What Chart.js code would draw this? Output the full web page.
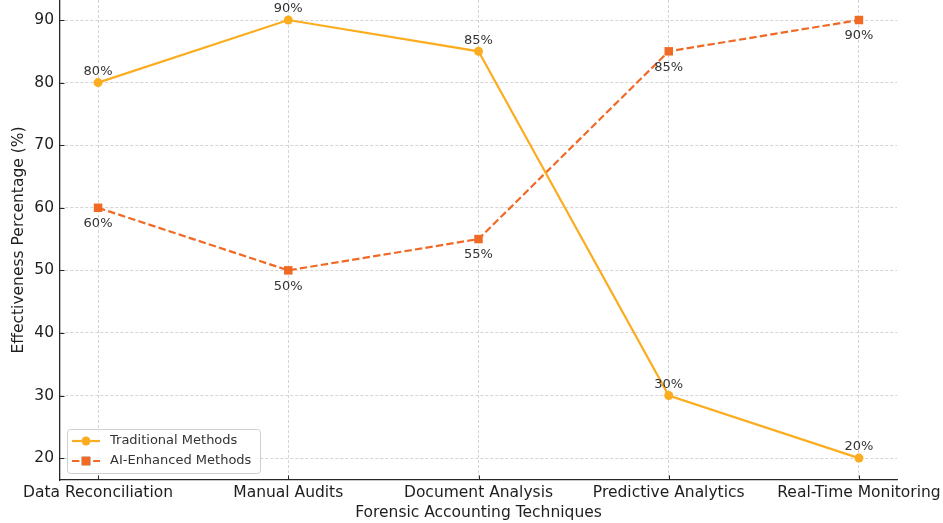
<!DOCTYPE html>
<html>
<head>
<meta charset="utf-8">
<script src="https://cdn.jsdelivr.net/npm/chart.js@4.4.1/dist/chart.umd.min.js"></script>
<style>
  html, body { margin: 0; padding: 0; background: #fff; overflow: hidden; }
  #wrap { position: relative; width: 943px; height: 523px; }
</style>
</head>
<body>
<div id="wrap"><canvas id="c" width="943" height="523"></canvas></div>
<script>
// Forensic accounting techniques compared by effectiveness
const categories = ['Data Reconciliation', 'Manual Audits', 'Document Analysis', 'Predictive Analytics', 'Real-Time Monitoring'];
const traditionalValues = [80, 90, 85, 30, 20];
const aiEnhancedValues = [60, 50, 55, 85, 90];
const yTickValues = [20, 30, 40, 50, 60, 70, 80, 90];
const seriesNames = ['Traditional Methods', 'AI-Enhanced Methods'];

const FONT = 'DejaVu Sans';
const TRAD_COLOR = '#fbad1f';
const AI_COLOR = '#f06a26';
const TEXT = '#1e1e1e';
const AXIS = '#262626';
const GRID = '#c9c9c9';

const toPoints = vals => vals.map((v, i) => ({ x: i, y: v }));

// Value labels: traditional above its points, AI-enhanced below
const valueLabels = {
  id: 'valueLabels',
  afterDatasetsDraw(chart) {
    const ctx = chart.ctx;
    ctx.save();
    ctx.font = '13px "' + FONT + '"';
    ctx.fillStyle = '#333333';
    ctx.textAlign = 'center';
    ctx.textBaseline = 'middle';
    chart.data.datasets.forEach((ds, di) => {
      const meta = chart.getDatasetMeta(di);
      const dy = di === 0 ? -11 : 16;
      meta.data.forEach((pt, i) => {
        ctx.fillText(ds.data[i].y + '%', pt.x, pt.y + dy);
      });
    });
    ctx.restore();
  }
};

// Short inward tick marks on the left and bottom axes
const innerTicks = {
  id: 'innerTicks',
  afterDraw(chart) {
    const { ctx, chartArea, scales } = chart;
    ctx.save();
    ctx.strokeStyle = AXIS;
    ctx.lineWidth = 1;
    ctx.beginPath();
    scales.y.ticks.forEach(t => {
      const y = Math.round(scales.y.getPixelForValue(t.value)) + 0.5;
      ctx.moveTo(chartArea.left, y);
      ctx.lineTo(chartArea.left + 4.5, y);
    });
    scales.x.ticks.forEach(t => {
      const x = Math.round(scales.x.getPixelForValue(t.value)) + 0.5;
      ctx.moveTo(x, chartArea.bottom);
      ctx.lineTo(x, chartArea.bottom - 4.5);
    });
    ctx.stroke();
    ctx.restore();
  }
};

// Legend box in the lower-left corner of the plot
const cornerLegend = {
  id: 'cornerLegend',
  afterDraw(chart) {
    const { ctx, chartArea } = chart;
    const x0 = chartArea.left + 7, w = 193, h = 44;
    const y0 = chartArea.bottom - 7 - h;
    ctx.save();
    ctx.beginPath();
    ctx.roundRect(x0 + 0.5, y0 + 0.5, w, h, 3);
    ctx.fillStyle = 'rgba(255,255,255,0.8)';
    ctx.fill();
    ctx.strokeStyle = '#d0d0d0';
    ctx.lineWidth = 1;
    ctx.stroke();
    chart.data.datasets.forEach((ds, i) => {
      const cy = y0 + 12 + i * 20;
      ctx.strokeStyle = ds.borderColor;
      ctx.lineWidth = ds.borderWidth;
      ctx.setLineDash(ds.borderDash || []);
      ctx.beginPath();
      ctx.moveTo(x0 + 5, cy);
      ctx.lineTo(x0 + 33, cy);
      ctx.stroke();
      ctx.setLineDash([]);
      Chart.helpers.drawPoint(ctx, {
        pointStyle: ds.pointStyle, radius: ds.pointRadius, rotation: 0,
        borderWidth: 0
      }, x0 + 19, cy);
      ctx.fillStyle = ds.pointBackgroundColor;
      ctx.fill();
      ctx.fillStyle = '#333';
      ctx.font = '13px "' + FONT + '"';
      ctx.textAlign = 'left';
      ctx.textBaseline = 'middle';
      ctx.fillText(ds.label, x0 + 43, cy);
    });
    ctx.restore();
  }
};

new Chart(document.getElementById('c'), {
  type: 'line',
  data: {
    datasets: [
      {
        label: seriesNames[0],
        data: toPoints(traditionalValues),
        borderColor: TRAD_COLOR,
        backgroundColor: TRAD_COLOR,
        pointBackgroundColor: TRAD_COLOR,
        pointBorderColor: TRAD_COLOR,
        pointStyle: 'circle',
        pointRadius: 4.5,
        pointBorderWidth: 0,
        borderWidth: 2.2,
        tension: 0
      },
      {
        label: seriesNames[1],
        data: toPoints(aiEnhancedValues),
        borderColor: AI_COLOR,
        backgroundColor: AI_COLOR,
        pointBackgroundColor: AI_COLOR,
        pointBorderColor: AI_COLOR,
        pointStyle: 'rect',
        pointRadius: 6,
        pointBorderWidth: 0,
        borderWidth: 2.2,
        borderDash: [7.4, 3.2],
        tension: 0
      }
    ]
  },
  options: {
    responsive: false,
    animation: false,
    events: [],
    layout: { autoPadding: false, padding: { left: 0, right: 46, top: 0, bottom: 0 } },
    plugins: {
      legend: { display: false },
      tooltip: { enabled: false }
    },
    scales: {
      x: {
        type: 'linear',
        position: 'bottom',
        min: -0.2,
        max: 4.2,
        afterBuildTicks: s => { s.ticks = categories.map((c, i) => ({ value: i })); },
        afterFit: s => { s.height = 43; s.paddingLeft = 0; s.paddingRight = 0; },
        ticks: {
          callback: v => categories[v],
          autoSkip: false,
          maxRotation: 0,
          padding: 4,
          color: TEXT,
          font: { family: FONT, size: 15.5 }
        },
        grid: { color: GRID, lineWidth: 0.8, drawTicks: false },
        border: { display: true, color: AXIS, width: 1.3, dash: [3, 2] },
        title: {
          display: true,
          text: 'Forensic Accounting Techniques',
          color: TEXT,
          font: { family: FONT, size: 15.5 },
          padding: { top: 0, bottom: 1.2 }
        }
      },
      y: {
        type: 'linear',
        position: 'left',
        min: 16.5,
        max: 93.2,
        afterBuildTicks: s => { s.ticks = yTickValues.map(v => ({ value: v })); },
        afterFit: s => { s.width = 60; s.paddingTop = 0; s.paddingBottom = 0; },
        ticks: {
          padding: 6,
          color: TEXT,
          font: { family: FONT, size: 15.5 }
        },
        grid: { color: GRID, lineWidth: 0.8, drawTicks: false },
        border: { display: true, color: AXIS, width: 1.3, dash: [3, 2] },
        title: {
          display: true,
          text: 'Effectiveness Percentage (%)',
          color: TEXT,
          font: { family: FONT, size: 15.5 },
          padding: { top: 10, bottom: 0 }
        }
      }
    }
  },
  plugins: [valueLabels, innerTicks, cornerLegend]
});
</script>
</body>
</html>
